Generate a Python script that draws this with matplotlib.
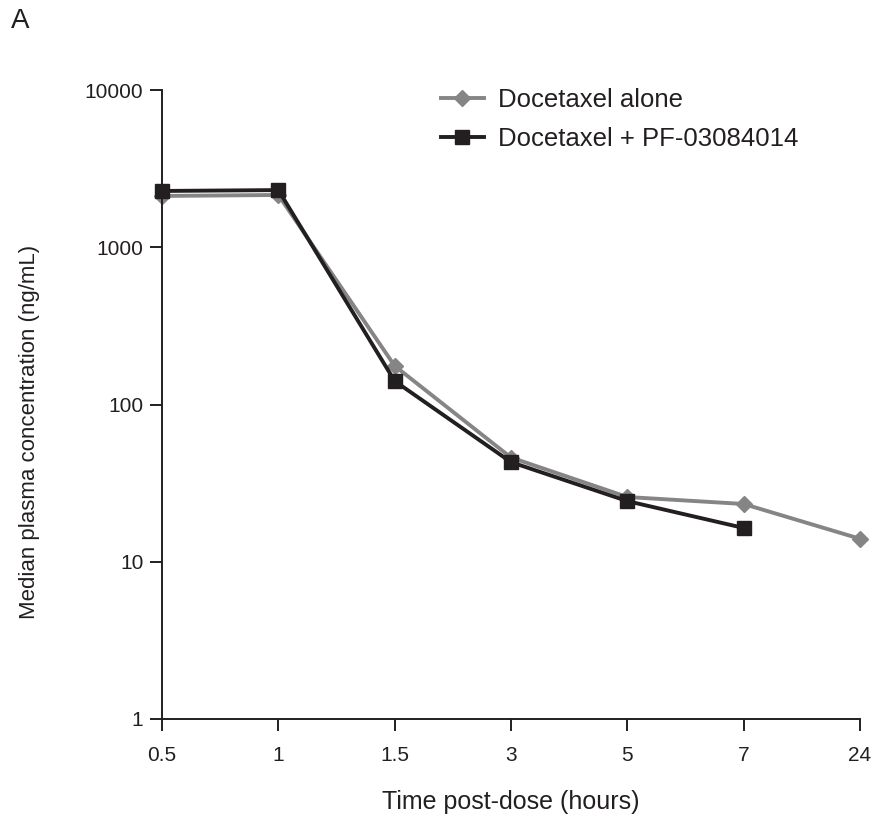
import matplotlib
matplotlib.use("Agg")
import matplotlib.pyplot as plt
from matplotlib.ticker import FixedLocator, NullLocator, FixedFormatter

plt.rcParams['font.family'] = ['Liberation Sans', 'DejaVu Sans']

time_labels = ["0.5", "1", "1.5", "3", "5", "7", "24"]
alone = [2120, 2150, 176, 46, 25.8, 23.3, 14.0]
combo = [2280, 2310, 141, 43, 24.3, 16.4]
ytick_vals = [1, 10, 100, 1000, 10000]
ytick_labels = ["1", "10", "100", "1000", "10000"]

fig = plt.figure(figsize=(8.78, 8.19), dpi=100)
ax = fig.add_axes([162/878, 1-719/819, (860-162)/878, (719-90)/819])

x_alone = list(range(len(alone)))
x_combo = list(range(len(combo)))
ax.plot(x_alone, alone, color="#858585", lw=2.8, marker="D", ms=8.5,
        mec="#858585", mfc="#858585", label="Docetaxel alone", zorder=2, clip_on=False)
ax.plot(x_combo, combo, color="#231f20", lw=2.8, marker="s", ms=9.5,
        mec="#231f20", mfc="#231f20", label="Docetaxel + PF-03084014", zorder=3, clip_on=False)

ax.set_yscale("log")
ax.set_ylim(1, 10000)
ax.set_xlim(0, len(time_labels) - 1)
ax.yaxis.set_major_locator(FixedLocator(ytick_vals))
ax.yaxis.set_major_formatter(FixedFormatter(ytick_labels))
ax.yaxis.set_minor_locator(NullLocator())
ax.set_xticks(range(len(time_labels)))
ax.set_xticklabels(time_labels)

for s in ["top", "right"]:
    ax.spines[s].set_visible(False)
for s in ["left", "bottom"]:
    ax.spines[s].set_linewidth(1.4)
    ax.spines[s].set_color("#231f20")
ax.tick_params(axis="both", direction="out", length=8.5, width=1.4,
               colors="#231f20", labelsize=15)
ax.tick_params(axis="y", pad=5)
ax.tick_params(axis="x", pad=11)

ax.set_xlabel("Time post-dose (hours)", fontsize=18, labelpad=18, color="#231f20")
ax.set_ylabel("Median plasma concentration (ng/mL)", fontsize=16, color="#231f20")
ax.yaxis.set_label_coords((40 - 162) / 698, (719 - 432) / 629)

leg = ax.legend(loc="upper left", bbox_to_anchor=(0.367, 1.04), frameon=False,
                fontsize=18.5, handlelength=1.65, labelspacing=0.6, handletextpad=0.55)
for t in leg.get_texts():
    t.set_color("#231f20")

fig.text(11/878, 1-21/819, "A", fontsize=20, va="center", ha="left", color="#231f20")

fig.savefig("out.png", dpi=100)
